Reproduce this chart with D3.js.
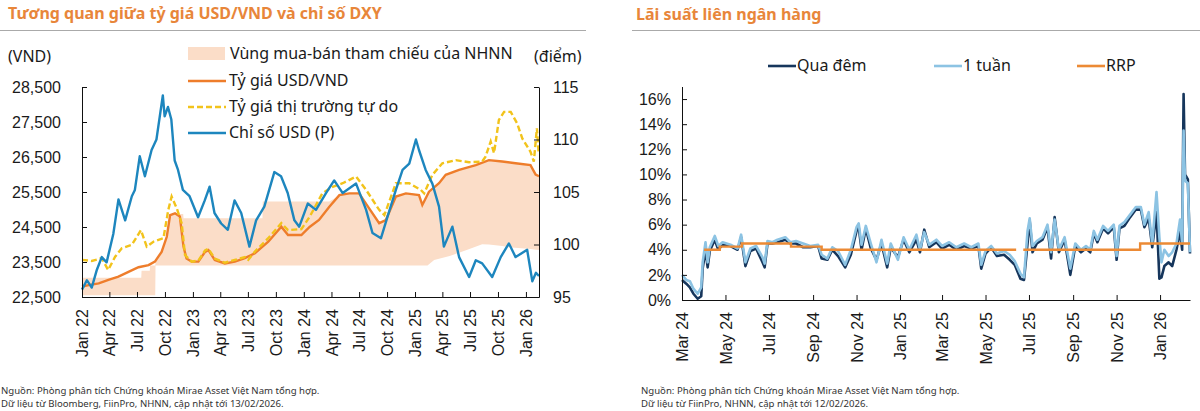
<!DOCTYPE html>
<html lang="vi">
<head>
<meta charset="UTF-8">
<title>Tỷ giá USD/VND, DXY và lãi suất liên ngân hàng</title>
<script src="https://d3js.org/d3.v7.min.js"></script>
<style>
  body { margin: 0; background: #fff; }
  svg { display: block; font-family: "Noto Sans", "Open Sans", sans-serif; }
  .title { font-size: 16px; font-weight: 700; fill: #E8863A; }
  .tick text, .lbl { font-size: 16px; fill: #1a1a1a; }
  .note { font-size: 9.6px; fill: #333; }
  .domain, .tick line { stroke: #111; }
</style>
</head>
<body>
<svg id="chart" width="1200" height="411"></svg>
<script>
// ---------- left chart: USD/VND vs DXY ----------
const bandDates = ["2022-01-01","2022-07-15","2022-07-16","2022-08-12","2022-08-13","2022-08-30","2022-08-31","2022-09-20","2022-10-07","2022-10-18","2022-11-30","2022-12-01","2023-08-18","2023-08-19","2024-03-25","2024-04-27","2024-05-30","2024-07-01","2024-08-03","2024-09-05","2024-09-27","2024-10-30","2024-12-02","2025-01-14","2025-01-25","2025-02-11","2025-03-05","2025-04-25","2025-06-20","2025-08-10","2025-09-01","2025-10-15","2025-11-06","2026-01-16","2026-02-02","2026-02-13"];
const bandLow = [22550,22550,22550,22550,22550,22550,23400,23400,23400,23400,23400,23400,23400,23400,23400,23400,23400,23400,23400,23400,23400,23400,23400,23400,23400,23400,23560,23670,23840,24010,24000,23960,23920,23870,23850,23840];
const bandHigh = [23050,23050,23250,23250,23400,23400,23500,23750,24200,24870,24870,24750,24750,25230,25230,25400,25450,25450,25030,24610,24700,25370,25450,25400,25130,25450,25650,26050,26180,26330,26400,26360,26330,26260,26000,25950];

const officialDates = ["2022-01-01","2022-01-23","2022-02-25","2022-03-29","2022-05-01","2022-06-03","2022-07-06","2022-08-08","2022-08-29","2022-09-20","2022-10-07","2022-10-18","2022-11-03","2022-11-19","2022-12-01","2022-12-11","2022-12-28","2023-01-19","2023-02-10","2023-02-21","2023-03-14","2023-04-16","2023-05-19","2023-06-21","2023-07-24","2023-09-06","2023-10-19","2023-11-10","2023-12-24","2024-01-20","2024-02-20","2024-03-25","2024-04-27","2024-05-30","2024-07-01","2024-08-03","2024-09-05","2024-09-27","2024-10-30","2024-12-02","2025-01-14","2025-01-25","2025-02-16","2025-03-21","2025-04-12","2025-05-26","2025-07-20","2025-09-01","2025-10-15","2025-11-28","2026-01-16","2026-02-02","2026-02-13"];
const officialRate = [22800,22840,22890,22990,23080,23220,23350,23410,23510,23790,24220,24840,24890,24800,23940,23600,23510,23510,23790,23840,23560,23460,23510,23610,23750,24080,24510,24270,24270,24500,24700,25080,25410,25460,25460,25030,24610,24700,25370,25460,25410,25130,25510,25750,25990,26130,26270,26410,26370,26320,26270,26000,25950];

const freeDates = ["2022-01-01","2022-02-02","2022-03-07","2022-03-28","2022-04-20","2022-05-12","2022-06-14","2022-07-14","2022-08-02","2022-08-24","2022-09-26","2022-10-12","2022-10-23","2022-11-09","2022-11-25","2022-12-06","2022-12-28","2023-01-19","2023-02-10","2023-02-21","2023-03-14","2023-04-16","2023-05-19","2023-06-21","2023-07-02","2023-07-24","2023-09-06","2023-10-19","2023-11-10","2023-12-24","2024-01-20","2024-03-02","2024-04-05","2024-05-08","2024-06-21","2024-07-24","2024-09-05","2024-09-22","2024-10-30","2024-12-13","2025-01-20","2025-01-31","2025-02-27","2025-04-01","2025-05-15","2025-06-28","2025-08-10","2025-08-21","2025-09-07","2025-09-18","2025-10-04","2025-10-21","2025-11-12","2025-12-03","2025-12-20","2026-01-16","2026-01-27","2026-02-06","2026-02-12"];
const freeRate = [23560,23530,23610,23270,23650,23890,23990,24410,23940,24080,24180,24990,25370,25030,24610,23700,23510,23540,23830,23880,23600,23480,23560,23640,23560,23800,24180,24610,24410,24440,24790,25460,25650,25750,25940,25560,24990,24840,25750,25750,25560,25460,25990,26320,26410,26350,26370,26510,26940,26610,27560,27790,27790,27460,27030,26650,26370,27320,26600];

const dxyDates = ["2022-01-01","2022-01-17","2022-02-02","2022-02-19","2022-03-07","2022-03-23","2022-04-14","2022-05-01","2022-05-23","2022-06-14","2022-06-24","2022-07-10","2022-07-27","2022-08-18","2022-09-03","2022-09-24","2022-09-30","2022-10-11","2022-10-22","2022-11-02","2022-11-13","2022-11-29","2022-12-21","2023-01-18","2023-02-09","2023-02-25","2023-03-13","2023-04-04","2023-04-26","2023-05-18","2023-06-09","2023-07-06","2023-07-28","2023-08-24","2023-09-26","2023-10-18","2023-11-09","2023-12-01","2023-12-17","2024-01-14","2024-02-10","2024-03-14","2024-04-10","2024-05-08","2024-06-21","2024-07-24","2024-08-14","2024-09-11","2024-10-02","2024-10-30","2024-11-21","2024-12-13","2025-01-04","2025-01-14","2025-02-05","2025-02-27","2025-03-21","2025-04-06","2025-05-04","2025-05-26","2025-06-28","2025-07-20","2025-08-10","2025-09-12","2025-10-10","2025-11-06","2025-11-28","2026-01-05","2026-01-22","2026-02-03","2026-02-13"];
const dxyValues = [95.7,96.6,95.9,97.6,98.8,98.3,101.0,104.3,102.3,104.6,105.2,108.4,106.5,109.0,110.0,114.2,112.2,113.1,111.9,108.0,107.1,105.2,104.6,102.6,104.2,105.5,103.0,102.0,101.4,104.2,103.0,99.8,102.3,103.6,106.9,106.5,104.9,102.3,101.7,103.9,103.3,104.9,106.1,104.9,105.8,103.3,101.1,100.6,102.6,105.2,107.1,107.7,110.0,109.0,107.1,105.8,103.6,99.8,101.7,98.8,96.9,98.5,98.2,96.9,98.8,100.1,98.8,99.5,96.5,97.3,97.0];

const vndTicks = [22500, 23500, 24500, 25500, 26500, 27500, 28500];
const dxyTicks = [95, 100, 105, 110, 115];

// ---------- right chart: interbank rates ----------
const ibDates = ["2024-03-01","2024-03-07","2024-03-12","2024-03-17","2024-03-23","2024-03-28","2024-03-30","2024-04-03","2024-04-06","2024-04-09","2024-04-16","2024-04-21","2024-04-27","2024-05-08","2024-05-18","2024-05-23","2024-05-29","2024-06-05","2024-06-13","2024-06-22","2024-06-25","2024-06-29","2024-07-06","2024-07-13","2024-07-24","2024-07-31","2024-08-08","2024-08-18","2024-08-28","2024-09-08","2024-09-13","2024-09-21","2024-09-28","2024-10-06","2024-10-16","2024-10-24","2024-11-01","2024-11-04","2024-11-08","2024-11-14","2024-11-21","2024-11-29","2024-12-06","2024-12-14","2024-12-19","2024-12-29","2025-01-06","2025-01-14","2025-01-24","2025-01-29","2025-02-04","2025-02-11","2025-02-21","2025-03-01","2025-03-11","2025-03-21","2025-04-01","2025-04-11","2025-04-21","2025-04-25","2025-05-01","2025-05-09","2025-05-17","2025-05-27","2025-06-04","2025-06-11","2025-06-19","2025-06-24","2025-06-29","2025-07-02","2025-07-06","2025-07-12","2025-07-20","2025-07-27","2025-08-01","2025-08-06","2025-08-12","2025-08-20","2025-08-28","2025-09-04","2025-09-12","2025-09-19","2025-09-25","2025-09-30","2025-10-05","2025-10-13","2025-10-20","2025-10-28","2025-11-01","2025-11-05","2025-11-12","2025-11-20","2025-11-28","2025-12-05","2025-12-10","2025-12-16","2025-12-21","2025-12-27","2025-12-31","2026-01-03","2026-01-07","2026-01-13","2026-01-18","2026-01-24","2026-01-29","2026-02-01","2026-02-03","2026-02-05","2026-02-09","2026-02-12"];
const overnight = [1.6,1.3,1.0,0.5,0.1,0.3,2.5,4.0,2.6,3.9,4.8,4.0,4.4,4.3,4.0,5.0,2.7,3.9,4.1,3.0,2.6,4.5,4.5,4.6,4.8,4.5,4.5,4.2,4.2,4.3,3.3,3.2,4.0,3.5,2.6,3.6,5.5,5.8,4.0,5.7,4.1,3.2,4.5,2.6,4.2,3.4,4.8,3.8,4.8,3.8,5.6,4.2,4.6,4.1,4.4,4.0,4.3,4.1,4.3,2.5,3.7,4.2,3.5,3.6,3.2,2.8,1.7,1.6,4.5,6.3,3.8,4.5,4.8,5.8,3.3,6.6,3.8,4.8,2.0,4.3,3.8,4.1,3.8,5.3,4.6,5.7,5.3,5.8,3.2,5.7,5.9,6.6,7.2,7.2,5.8,6.5,4.2,7.0,1.7,1.8,2.7,3.0,2.7,4.0,5.5,4.0,16.4,10.0,9.6,3.7];
const oneWeek = [2.0,1.6,1.5,0.9,0.5,1.0,3.0,4.6,3.0,4.2,5.1,4.3,4.6,4.4,4.1,5.2,3.0,4.1,4.3,3.4,2.9,4.7,4.6,4.8,5.0,4.6,4.7,4.5,4.3,4.4,3.6,3.3,4.2,3.9,2.8,4.0,5.8,6.1,4.4,5.9,4.5,3.0,4.8,2.9,4.5,3.2,5.0,4.0,5.2,4.0,5.4,4.4,4.8,4.3,4.6,4.2,4.5,4.2,4.5,2.8,3.9,4.3,3.7,3.9,3.6,3.1,2.1,1.8,5.5,6.5,4.3,4.7,5.0,6.0,3.8,6.4,4.0,5.0,2.5,4.5,4.0,4.3,4.0,5.5,4.8,5.9,5.5,6.0,3.5,5.9,6.2,6.8,7.4,7.4,6.0,7.0,4.5,8.6,5.0,3.0,4.0,3.5,3.8,4.5,6.4,4.5,13.5,9.5,9.3,3.8];

const rrpDates = ["2024-04-01","2024-04-23","2024-05-24","2024-08-01","2024-09-13","2025-06-13","2025-06-14","2025-06-23","2025-12-04","2026-02-12"];
const rrpValues = [4.0,4.25,4.5,4.25,4.0,4.0,null,4.0,4.5,4.5];

const rateTicks = [0, 2, 4, 6, 8, 10, 12, 14, 16];

// ---------- drawing ----------
const parse = d3.timeParse("%Y-%m-%d");
const svg = d3.select("#chart");

const C_BAND = "#FBDDC8", C_OFF = "#EE7D2B", C_FREE = "#F2C31B", C_DXY = "#1D86BE";
const C_ON = "#16365C", C_WK = "#8CC3E3", C_RRP = "#EC8A35";

// titles and separators
svg.append("text").attr("class", "title").attr("x", 8).attr("y", 19)
    .text("Tương quan giữa tỷ giá USD/VND và chỉ số DXY");
svg.append("text").attr("class", "title").attr("x", 636).attr("y", 20)
    .text("Lãi suất liên ngân hàng");
svg.append("line").attr("x1", 0).attr("x2", 586).attr("y1", 30.5).attr("y2", 30.5).attr("stroke", "#aaa");
svg.append("line").attr("x1", 632).attr("x2", 1200).attr("y1", 30.5).attr("y2", 30.5).attr("stroke", "#aaa");

// ----- left -----
const xL = d3.scaleTime().domain([parse("2022-01-01"), parse("2026-02-13")]).range([82, 539]);
const yL = d3.scaleLinear().domain([22500, 28500]).range([297, 87]);
const yR = d3.scaleLinear().domain([95, 115]).range([297, 87]);

const band = bandDates.map((d, i) => ({ date: parse(d), lo: bandLow[i], hi: bandHigh[i] }));
const official = officialDates.map((d, i) => ({ date: parse(d), v: officialRate[i] }));
const free = freeDates.map((d, i) => ({ date: parse(d), v: freeRate[i] }));
const dxy = dxyDates.map((d, i) => ({ date: parse(d), v: dxyValues[i] }));

const left = svg.append("g");

left.append("path").datum(band)
    .attr("fill", C_BAND)
    .attr("d", d3.area().x(d => xL(d.date)).y0(d => yL(d.lo)).y1(d => yL(d.hi)));

const lineL = d3.line().x(d => xL(d.date)).y(d => yL(d.v));
left.append("path").datum(official).attr("fill", "none").attr("stroke", C_OFF)
    .attr("stroke-width", 2.4).attr("d", lineL);
left.append("path").datum(free).attr("fill", "none").attr("stroke", C_FREE)
    .attr("stroke-width", 2.4).attr("stroke-dasharray", "6,3").attr("d", lineL);
left.append("path").datum(dxy).attr("fill", "none").attr("stroke", C_DXY)
    .attr("stroke-width", 2.4).attr("stroke-linejoin", "round")
    .attr("d", d3.line().x(d => xL(d.date)).y(d => yR(d.v)));

left.append("g").attr("transform", "translate(82,0)")
    .call(d3.axisLeft(yL).tickValues(vndTicks).tickFormat(d3.format(",")).tickSize(-5).tickSizeOuter(0).tickPadding(21))
    .call(g => g.selectAll("text").attr("class", "lbl"));
left.append("g").attr("transform", "translate(539,0)")
    .call(d3.axisRight(yR).tickValues(dxyTicks).tickSize(-5).tickSizeOuter(0).tickPadding(14))
    .call(g => g.selectAll("text").attr("class", "lbl"));
left.append("g").attr("transform", "translate(0,297)")
    .call(d3.axisBottom(xL).ticks(d3.timeMonth.every(3)).tickFormat(d3.timeFormat("%b %y")).tickSize(-5).tickSizeOuter(0))
    .call(g => g.selectAll("text").attr("class", "lbl")
        .attr("transform", "rotate(-90)").attr("text-anchor", "end")
        .attr("x", -12).attr("y", 0).attr("dy", "0.35em"));

svg.append("text").attr("class", "lbl").attr("x", 8).attr("y", 62).text("(VND)");
svg.append("text").attr("class", "lbl").attr("x", 534).attr("y", 62).text("(điểm)");

// left legend
const legL = svg.append("g");
legL.append("rect").attr("x", 188).attr("y", 47).attr("width", 37).attr("height", 13).attr("fill", C_BAND);
legL.append("text").attr("class", "lbl").attr("x", 230).attr("y", 59).text("Vùng mua-bán tham chiếu của NHNN");
const legItems = [
    { name: "Tỷ giá USD/VND", color: C_OFF, dash: null, y: 81 },
    { name: "Tỷ giá thị trường tự do", color: C_FREE, dash: "6,3", y: 107 },
    { name: "Chỉ số USD (P)", color: C_DXY, dash: null, y: 133 }
];
legItems.forEach(it => {
    legL.append("line").attr("x1", 188).attr("x2", 226).attr("y1", it.y).attr("y2", it.y)
        .attr("stroke", it.color).attr("stroke-width", 2.4).attr("stroke-dasharray", it.dash);
    legL.append("text").attr("class", "lbl").attr("x", 229).attr("y", it.y + 5).text(it.name);
});

svg.append("text").attr("class", "note").attr("x", 1).attr("y", 393.5)
    .text("Nguồn: Phòng phân tích Chứng khoán Mirae Asset Việt Nam tổng hợp.");
svg.append("text").attr("class", "note").attr("x", 1).attr("y", 407)
    .text("Dữ liệu từ Bloomberg, FiinPro, NHNN, cập nhật tới 13/02/2026.");

// ----- right -----
const xI = d3.scaleTime().domain([parse("2024-03-01"), parse("2026-02-12")]).range([682, 1190]);
const yI = d3.scaleLinear().domain([0, 17]).range([300, 86.5]);

const ib = ibDates.map((d, i) => ({ date: parse(d), on: overnight[i], wk: oneWeek[i] }));
const rrp = rrpDates.map((d, i) => ({ date: parse(d), v: rrpValues[i] }));

const right = svg.append("g");
right.append("path").datum(ib).attr("fill", "none").attr("stroke", C_ON).attr("stroke-width", 2.6)
    .attr("stroke-linejoin", "round")
    .attr("d", d3.line().x(d => xI(d.date)).y(d => yI(d.on)));
right.append("path").datum(ib).attr("fill", "none").attr("stroke", C_WK).attr("stroke-width", 2.6)
    .attr("stroke-linejoin", "round")
    .attr("d", d3.line().x(d => xI(d.date)).y(d => yI(d.wk)));
right.append("path").datum(rrp).attr("fill", "none").attr("stroke", C_RRP).attr("stroke-width", 2.4)
    .attr("d", d3.line().defined(d => d.v != null).curve(d3.curveStepAfter)
        .x(d => xI(d.date)).y(d => yI(d.v)));

right.append("g").attr("transform", "translate(682,0)")
    .call(d3.axisLeft(yI).tickValues(rateTicks).tickFormat(d => d + "%").tickSize(-5).tickSizeOuter(0).tickPadding(11))
    .call(g => g.selectAll("text").attr("class", "lbl"));
right.append("g").attr("transform", "translate(0,300)")
    .call(d3.axisBottom(xI).ticks(d3.timeMonth.every(2)).tickFormat(d3.timeFormat("%b %y")).tickSize(-5).tickSizeOuter(0))
    .call(g => g.selectAll("text").attr("class", "lbl")
        .attr("transform", "rotate(-90)").attr("text-anchor", "end")
        .attr("x", -12).attr("y", 0).attr("dy", "0.35em"));

const legR = [
    { name: "Qua đêm", color: C_ON, x: 768 },
    { name: "1 tuần", color: C_WK, x: 934 },
    { name: "RRP", color: C_RRP, x: 1077 }
];
legR.forEach(it => {
    svg.append("line").attr("x1", it.x).attr("x2", it.x + 28).attr("y1", 66).attr("y2", 66)
        .attr("stroke", it.color).attr("stroke-width", 2.6);
    svg.append("text").attr("class", "lbl").attr("x", it.x + 29).attr("y", 71).text(it.name);
});

svg.append("text").attr("class", "note").attr("x", 641).attr("y", 393.5)
    .text("Nguồn: Phòng phân tích Chứng khoán Mirae Asset Việt Nam tổng hợp.");
svg.append("text").attr("class", "note").attr("x", 641).attr("y", 407)
    .text("Dữ liệu từ FiinPro, NHNN, cập nhật tới 12/02/2026.");
</script>
</body>
</html>
